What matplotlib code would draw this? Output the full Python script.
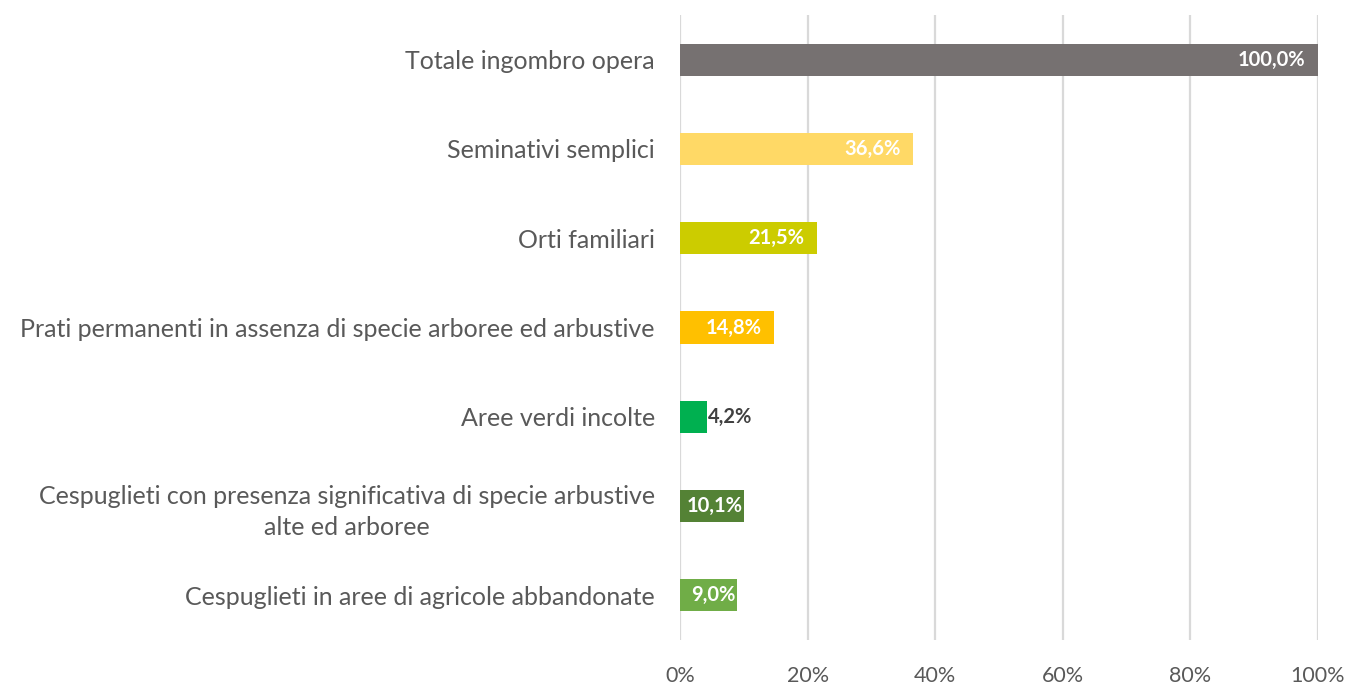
import matplotlib.pyplot as plt
from matplotlib.ticker import FuncFormatter

plt.rcParams['font.family'] = ['Lato', 'DejaVu Sans']

# Land-use categories crossed by the work footprint
categories = [
    'Totale ingombro opera',
    'Seminativi semplici',
    'Orti familiari',
    'Prati permanenti in assenza di specie arboree ed arbustive',
    'Aree verdi incolte',
    'Cespuglieti con presenza significativa di specie arbustive\nalte ed arboree',
    'Cespuglieti in aree di agricole abbandonate',
]
shares = [100.0, 36.6, 21.5, 14.8, 4.2, 10.1, 9.0]
colors = ['#767171', '#FFD966', '#CCCC00', '#FFC000', '#00B050', '#548235', '#70AD47']
x_ticks = [0, 20, 40, 60, 80, 100]

fig = plt.figure(figsize=(13.51, 6.84), dpi=100)
ax = fig.add_axes([0.5033, 0.0643, 0.4723, 0.9137])

ypos = list(range(len(categories)))
ax.barh(ypos, shares, height=0.36, color=colors, zorder=3)

ax.set_ylim(len(categories) - 0.5, -0.5)
ax.set_xlim(0, 100)
ax.set_yticks(ypos)
ax.set_yticklabels(categories, fontsize=18, color='#595959',
                   multialignment='center', linespacing=1.4)
ax.set_xticks(x_ticks)
ax.xaxis.set_major_formatter(FuncFormatter(lambda v, p: f'{v:.0f}%'))
ax.tick_params(axis='x', length=0, pad=19, labelsize=15.5, labelcolor='#595959')
ax.tick_params(axis='y', length=0, pad=18)

ax.grid(axis='x', color='#D9D9D9', linewidth=1.6, zorder=0)
for s in ax.spines.values():
    s.set_visible(False)

# value labels: inside the bar end, outside when the bar is too short
for y, v in zip(ypos, shares):
    txt = f'{v:.1f}'.replace('.', ',') + '%'
    if v < 5:
        ax.annotate(txt, (v, y), xytext=(1, 0), textcoords='offset points',
                    va='center', ha='left', fontsize=14.5, fontweight='bold',
                    color='#404040', zorder=4)
    else:
        off = -9 if v > 12 else -1.5
        ax.annotate(txt, (v, y), xytext=(off, 0), textcoords='offset points',
                    va='center', ha='right', fontsize=14.5, fontweight='bold',
                    color='white', zorder=4)

fig.savefig('out.png', dpi=100)
